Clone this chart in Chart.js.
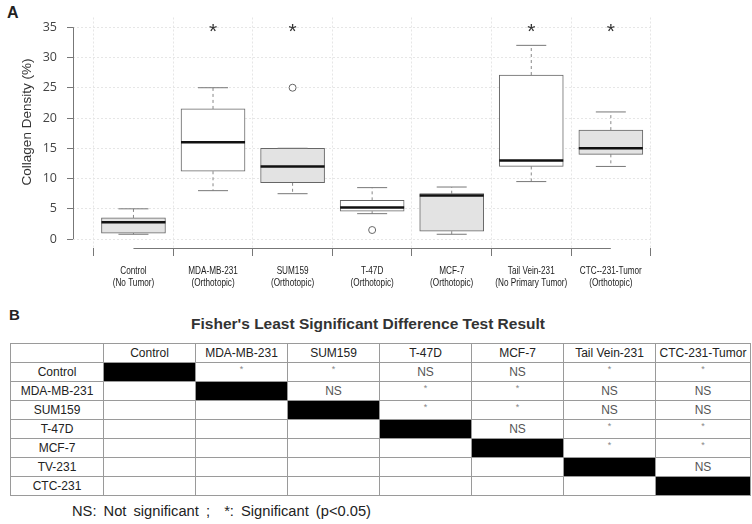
<!DOCTYPE html>
<html>
<head>
<meta charset="UTF-8" />
<title>Collagen density box plot</title>
<script src="https://cdn.jsdelivr.net/npm/chart.js@4.4.1/dist/chart.umd.min.js"></script>
<style>
    body { margin: 0; background: white; font-family: "Liberation Sans", Arial, sans-serif; color: #222; }
    #page { position: relative; width: 752px; height: 524px; overflow: hidden; }
    .panelLabel { position: absolute; font-weight: bold; }
    #boxWrap { position: absolute; left: 0; top: 0; }
    #lsdTitle { position: absolute; top: 315px; left: -8px; width: 752px; text-align: center; font-size: 15.5px; font-weight: bold; color: #333; }
    #lsdTable { position: absolute; left: 10px; top: 343px; border-collapse: collapse; table-layout: fixed; }
    #lsdTable tr { height: 19px; }
    #lsdTable td { border: 1px solid #9a9a9a; height: 17px; line-height: 15px; padding: 0; text-align: center; font-size: 12px; color: #222; overflow: hidden; white-space: nowrap; }
    #lsdTable td.ns { color: #555; }
    #lsdTable td.sig { color: #888; font-size: 9px; line-height: 11px; vertical-align: top; padding-top: 1px; }
    #lsdTable td.diag { background: black; }
    #legendNote { position: absolute; left: 72px; top: 503px; font-size: 14.7px; word-spacing: 3px; color: #222; white-space: nowrap; }
</style>
</head>
<body>
<div id="page">
    <div class="panelLabel" style="left:7px;top:4px;font-size:16px">A</div>
    <div id="boxWrap"><canvas id="boxChart" width="752" height="300"></canvas></div>

    <div class="panelLabel" style="left:9px;top:306px;font-size:15px">B</div>
    <div id="lsdTitle">Fisher's Least Significant Difference Test Result</div>
    <table id="lsdTable"></table>
    <div id="legendNote">NS: Not significant ;&nbsp; *: Significant (p&lt;0.05)</div>
</div>

<script>
    // ---- panel A data ----
    var groupNames = [
        ['Control', '(No Tumor)'],
        ['MDA-MB-231', '(Orthotopic)'],
        ['SUM159', '(Orthotopic)'],
        ['T-47D', '(Orthotopic)'],
        ['MCF-7', '(Orthotopic)'],
        ['Tail Vein-231', '(No Primary Tumor)'],
        ['CTC--231-Tumor', '(Orthotopic)']
    ];
    var whiskerLow  = [0.8, 8.0, 7.5, 4.2, 0.8, 9.5, 12.0];
    var quart1      = [1.0, 11.2, 9.3, 4.6, 1.3, 12.0, 14.0];
    var medians     = [2.8, 16.0, 12.0, 5.2, 7.2, 13.0, 15.0];
    var quart3      = [3.5, 21.5, 15.0, 6.4, 7.5, 27.1, 18.0];
    var whiskerHigh = [5.0, 25.0, 15.0, 8.5, 8.6, 32.0, 21.0];
    var outlierGroup = [2, 3];
    var outlierValue = [25, 1.5];
    var starGroups = [1, 2, 5, 6];
    var starLevel = 34.4;
    var yTicks = [0, 5, 10, 15, 20, 25, 30, 35];
    var yTitle = 'Collagen Density (%)';
    var boxFill = ['#e3e3e3', '#ffffff', '#e3e3e3', '#ffffff', '#e3e3e3', '#ffffff', '#e3e3e3'];

    // ---- panel B data ----
    var rowNames = ['Control', 'MDA-MB-231', 'SUM159', 'T-47D', 'MCF-7', 'TV-231', 'CTC-231'];
    var colNames = ['Control', 'MDA-MB-231', 'SUM159', 'T-47D', 'MCF-7', 'Tail Vein-231', 'CTC-231-Tumor'];
    var lsdResult = [
        ['*', '*', 'NS', 'NS', '*', '*'],
        ['NS', '*', '*', 'NS', 'NS'],
        ['*', '*', 'NS', 'NS'],
        ['NS', '*', '*'],
        ['*', '*'],
        ['NS'],
        []
    ];
    var colWidths = [93, 92, 92, 92, 92, 92, 92, 95];

    var groupIdx = groupNames.map(function (g, i) { return i; });

    // whisker segments, null y breaks the line between groups
    var whiskerPts = [];
    groupIdx.forEach(function (i) {
        whiskerPts.push({ x: i, y: quart3[i] }, { x: i, y: whiskerHigh[i] }, { x: i, y: null });
        whiskerPts.push({ x: i, y: quart1[i] }, { x: i, y: whiskerLow[i] }, { x: i, y: null });
    });
    var capPts = [];
    groupIdx.forEach(function (i) {
        capPts.push({ x: i, y: whiskerHigh[i] }, { x: i, y: whiskerLow[i] });
    });

    // R style axes: lines only from first to last tick, narrow group labels, stars
    var rAxes = {
        id: 'rAxes',
        beforeDatasetsDraw: function (chart) {
            var ctx = chart.ctx, xs = chart.scales.x, ys = chart.scales.y;
            var area = chart.chartArea;
            ctx.save();
            ctx.strokeStyle = '#777';
            ctx.lineWidth = 1;
            ctx.beginPath();
            ctx.moveTo(area.left + 0.5, ys.getPixelForValue(yTicks[0]));
            ctx.lineTo(area.left + 0.5, ys.getPixelForValue(yTicks[yTicks.length - 1]));
            ctx.moveTo(xs.getPixelForValue(0), area.bottom + 0.5);
            ctx.lineTo(xs.getPixelForValue(groupIdx.length - 1), area.bottom + 0.5);
            ctx.stroke();

            // group labels, squeezed like the narrow font of the figure
            ctx.fillStyle = '#222';
            ctx.font = '10.5px "Liberation Sans", Arial';
            ctx.textAlign = 'center';
            ctx.textBaseline = 'middle';
            groupIdx.forEach(function (i) {
                var px = xs.getPixelForValue(i);
                groupNames[i].forEach(function (line, k) {
                    ctx.save();
                    ctx.translate(px, area.bottom + 23 + k * 12);
                    ctx.scale(0.78, 1);
                    ctx.fillText(line, 0, 0);
                    ctx.restore();
                });
            });

            // y title
            ctx.save();
            ctx.fillStyle = '#333';
            ctx.font = '13.5px "Liberation Sans", Arial';
            ctx.translate(27, 122);
            ctx.rotate(-Math.PI / 2);
            ctx.fillText(yTitle, 0, 0);
            ctx.restore();
            ctx.restore();
        },
        afterDatasetsDraw: function (chart) {
            var ctx = chart.ctx, xs = chart.scales.x, ys = chart.scales.y;
            ctx.save();
            ctx.fillStyle = '#333';
            ctx.font = '21px "Liberation Sans", Arial';
            ctx.textAlign = 'center';
            ctx.textBaseline = 'middle';
            starGroups.forEach(function (g) {
                ctx.fillText('*', xs.getPixelForValue(g), ys.getPixelForValue(starLevel) + 1);
            });
            ctx.restore();
        }
    };

    var boxChart = new Chart('boxChart', {
        type: 'bar',
        data: {
            datasets: [{
                type: 'scatter',
                order: 0,
                data: groupIdx.map(function (i) { return { x: i, y: medians[i] }; }),
                pointStyle: 'line',
                pointRadius: 32,
                borderColor: '#111',
                borderWidth: 2.5
            }, {
                type: 'scatter',
                order: 1,
                data: capPts,
                pointStyle: 'line',
                pointRadius: 15,
                borderColor: '#777',
                borderWidth: 1
            }, {
                type: 'scatter',
                order: 1,
                data: outlierGroup.map(function (g, k) { return { x: g, y: outlierValue[k] }; }),
                pointStyle: 'circle',
                pointRadius: 3.5,
                backgroundColor: 'white',
                borderColor: '#666',
                borderWidth: 1
            }, {
                type: 'bar',
                order: 3,
                data: groupIdx.map(function (i) { return { x: i, y: [quart1[i], quart3[i]] }; }),
                backgroundColor: boxFill,
                borderColor: '#666',
                borderWidth: 1,
                borderSkipped: false,
                barThickness: 64
            }, {
                type: 'line',
                order: 4,
                data: whiskerPts,
                borderColor: '#888',
                borderWidth: 1,
                borderDash: [3, 3],
                pointRadius: 0,
                spanGaps: false
            }]
        },
        options: {
            responsive: false,
            animation: false,
            layout: { autoPadding: false, padding: { top: 15, right: 99, left: 0, bottom: 0 } },
            plugins: { legend: { display: false }, tooltip: { enabled: false } },
            scales: {
                x: {
                    type: 'linear',
                    min: -0.76,
                    max: 6.53,
                    offset: false,
                    afterBuildTicks: function (s) { s.ticks = groupIdx.map(function (v) { return { value: v }; }); },
                    afterFit: function (s) { s.height = 52; },
                    grid: { color: '#e6e6e6', tickLength: 8, tickColor: '#777' },
                    border: { display: false, dash: [2, 2] },
                    ticks: { display: false }
                },
                y: {
                    min: -1.47,
                    max: 36.6,
                    afterBuildTicks: function (s) { s.ticks = yTicks.map(function (v) { return { value: v }; }); },
                    afterFit: function (s) { s.width = 73; },
                    grid: { color: '#e6e6e6', tickLength: 6, tickColor: '#777' },
                    border: { display: false, dash: [2, 2] },
                    ticks: {
                        font: { family: '"Open Sans", Arial', size: 12.5 },
                        color: '#444',
                        padding: 10
                    }
                }
            }
        },
        plugins: [rAxes]
    });

    // ---- panel B table ----
    var table = document.getElementById('lsdTable');
    var colgroup = document.createElement('colgroup');
    colWidths.forEach(function (w) {
        var c = document.createElement('col');
        c.style.width = w + 'px';
        colgroup.appendChild(c);
    });
    table.appendChild(colgroup);
    var head = table.insertRow();
    head.insertCell().textContent = '';
    colNames.forEach(function (n) { head.insertCell().textContent = n; });
    rowNames.forEach(function (r, i) {
        var tr = table.insertRow();
        tr.insertCell().textContent = r;
        for (var j = 0; j < colNames.length; j++) {
            var td = tr.insertCell();
            if (j === i) {
                td.className = 'diag';
            } else if (j > i) {
                var v = lsdResult[i][j - i - 1];
                td.textContent = v;
                td.className = v === 'NS' ? 'ns' : 'sig';
            }
        }
    });
</script>
</body>
</html>
